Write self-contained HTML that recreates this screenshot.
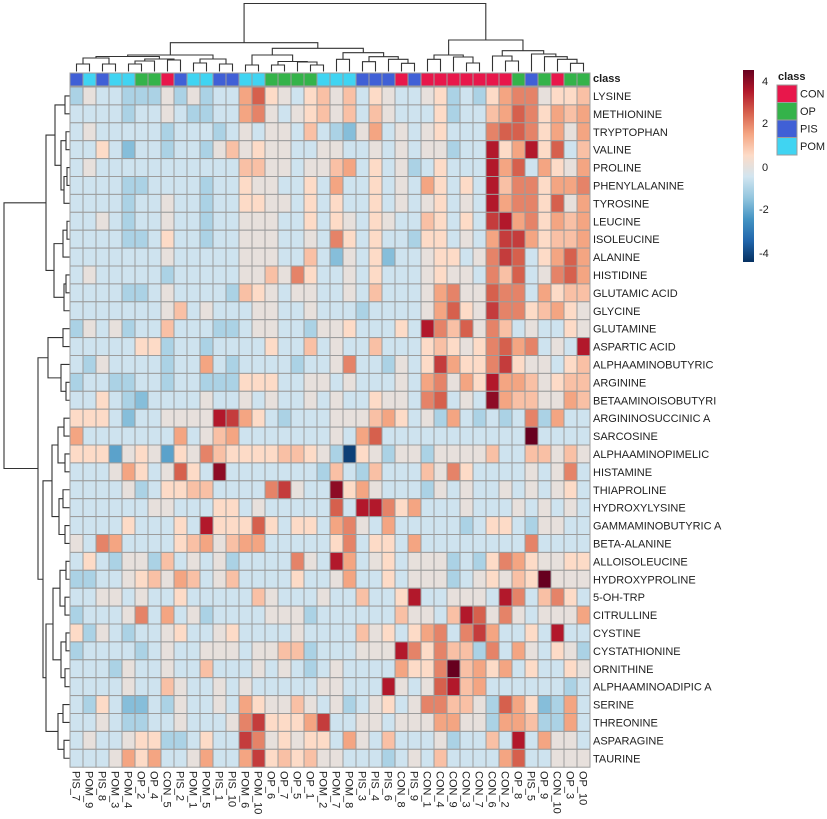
<!DOCTYPE html>
<html><head><meta charset="utf-8">
<style>
html,body{margin:0;padding:0;background:#fff;}
svg{display:block;}
text{font-family:"Liberation Sans",Arial,sans-serif;font-size:11px;fill:#1e1e1e;}
.b{font-weight:bold;}
</style></head><body>
<svg id="s" width="827" height="819" viewBox="0 0 827 819" xmlns="http://www.w3.org/2000/svg">
<defs><linearGradient id="cb" x1="0" y1="0" x2="0" y2="1">
<stop offset="0" stop-color="#67001F"/><stop offset="0.111" stop-color="#B2182B"/>
<stop offset="0.222" stop-color="#D6604D"/><stop offset="0.333" stop-color="#F4A582"/>
<stop offset="0.444" stop-color="#FDDBC7"/><stop offset="0.556" stop-color="#D1E5F0"/>
<stop offset="0.667" stop-color="#92C5DE"/><stop offset="0.778" stop-color="#4393C3"/>
<stop offset="0.889" stop-color="#2166AC"/><stop offset="1" stop-color="#053061"/>
</linearGradient></defs>
<rect width="827" height="819" fill="#fff"/>
<g id="cells" stroke="#9c9c9c" stroke-width="1"></g>
<g id="cls" stroke="#9c9c9c" stroke-width="1">
<rect x="70" y="73" width="13" height="13" fill="#4060D6"/>
<rect x="83" y="73" width="13" height="13" fill="#40D4F2"/>
<rect x="96" y="73" width="13" height="13" fill="#4060D6"/>
<rect x="109" y="73" width="13" height="13" fill="#40D4F2"/>
<rect x="122" y="73" width="13" height="13" fill="#40D4F2"/>
<rect x="135" y="73" width="13" height="13" fill="#34B34A"/>
<rect x="148" y="73" width="13" height="13" fill="#34B34A"/>
<rect x="161" y="73" width="13" height="13" fill="#E8174B"/>
<rect x="174" y="73" width="13" height="13" fill="#4060D6"/>
<rect x="187" y="73" width="13" height="13" fill="#40D4F2"/>
<rect x="200" y="73" width="13" height="13" fill="#40D4F2"/>
<rect x="213" y="73" width="13" height="13" fill="#4060D6"/>
<rect x="226" y="73" width="13" height="13" fill="#4060D6"/>
<rect x="239" y="73" width="13" height="13" fill="#40D4F2"/>
<rect x="252" y="73" width="13" height="13" fill="#40D4F2"/>
<rect x="265" y="73" width="13" height="13" fill="#34B34A"/>
<rect x="278" y="73" width="13" height="13" fill="#34B34A"/>
<rect x="291" y="73" width="13" height="13" fill="#34B34A"/>
<rect x="304" y="73" width="13" height="13" fill="#34B34A"/>
<rect x="317" y="73" width="13" height="13" fill="#40D4F2"/>
<rect x="330" y="73" width="13" height="13" fill="#40D4F2"/>
<rect x="343" y="73" width="13" height="13" fill="#40D4F2"/>
<rect x="356" y="73" width="13" height="13" fill="#4060D6"/>
<rect x="369" y="73" width="13" height="13" fill="#4060D6"/>
<rect x="382" y="73" width="13" height="13" fill="#4060D6"/>
<rect x="395" y="73" width="13" height="13" fill="#E8174B"/>
<rect x="408" y="73" width="13" height="13" fill="#4060D6"/>
<rect x="421" y="73" width="13" height="13" fill="#E8174B"/>
<rect x="434" y="73" width="13" height="13" fill="#E8174B"/>
<rect x="447" y="73" width="13" height="13" fill="#E8174B"/>
<rect x="460" y="73" width="13" height="13" fill="#E8174B"/>
<rect x="473" y="73" width="13" height="13" fill="#E8174B"/>
<rect x="486" y="73" width="13" height="13" fill="#E8174B"/>
<rect x="499" y="73" width="13" height="13" fill="#E8174B"/>
<rect x="512" y="73" width="13" height="13" fill="#34B34A"/>
<rect x="525" y="73" width="13" height="13" fill="#4060D6"/>
<rect x="538" y="73" width="13" height="13" fill="#34B34A"/>
<rect x="551" y="73" width="13" height="13" fill="#E8174B"/>
<rect x="564" y="73" width="13" height="13" fill="#34B34A"/>
<rect x="577" y="73" width="13" height="13" fill="#34B34A"/>
</g>
<g id="dend" fill="none" stroke="#333" stroke-width="1.1"></g>

<text class="b" x="593" y="82">class</text>
<g id="rowlab">
<text x="593" y="100">LYSINE</text>
<text x="593" y="117.9">METHIONINE</text>
<text x="593" y="135.8">TRYPTOPHAN</text>
<text x="593" y="153.7">VALINE</text>
<text x="593" y="171.6">PROLINE</text>
<text x="593" y="189.5">PHENYLALANINE</text>
<text x="593" y="207.4">TYROSINE</text>
<text x="593" y="225.3">LEUCINE</text>
<text x="593" y="243.2">ISOLEUCINE</text>
<text x="593" y="261.1">ALANINE</text>
<text x="593" y="279">HISTIDINE</text>
<text x="593" y="296.9">GLUTAMIC ACID</text>
<text x="593" y="314.8">GLYCINE</text>
<text x="593" y="332.7">GLUTAMINE</text>
<text x="593" y="350.6">ASPARTIC ACID</text>
<text x="593" y="368.5">ALPHAAMINOBUTYRIC</text>
<text x="593" y="386.4">ARGININE</text>
<text x="593" y="404.3">BETAAMINOISOBUTYRI</text>
<text x="593" y="422.2">ARGININOSUCCINIC A</text>
<text x="593" y="440.1">SARCOSINE</text>
<text x="593" y="458">ALPHAAMINOPIMELIC</text>
<text x="593" y="475.9">HISTAMINE</text>
<text x="593" y="493.8">THIAPROLINE</text>
<text x="593" y="511.7">HYDROXYLYSINE</text>
<text x="593" y="529.6">GAMMAMINOBUTYRIC A</text>
<text x="593" y="547.5">BETA-ALANINE</text>
<text x="593" y="565.4">ALLOISOLEUCINE</text>
<text x="593" y="583.3">HYDROXYPROLINE</text>
<text x="593" y="601.2">5-OH-TRP</text>
<text x="593" y="619.1">CITRULLINE</text>
<text x="593" y="637">CYSTINE</text>
<text x="593" y="654.9">CYSTATHIONINE</text>
<text x="593" y="672.8">ORNITHINE</text>
<text x="593" y="690.7">ALPHAAMINOADIPIC A</text>
<text x="593" y="708.6">SERINE</text>
<text x="593" y="726.5">THREONINE</text>
<text x="593" y="744.4">ASPARAGINE</text>
<text x="593" y="762.3">TAURINE</text>
</g>
<g id="collab">
<text transform="translate(76.5,771) rotate(90)" y="4">PIS_7</text>
<text transform="translate(89.5,771) rotate(90)" y="4">POM_9</text>
<text transform="translate(102.5,771) rotate(90)" y="4">PIS_8</text>
<text transform="translate(115.5,771) rotate(90)" y="4">POM_3</text>
<text transform="translate(128.5,771) rotate(90)" y="4">POM_4</text>
<text transform="translate(141.5,771) rotate(90)" y="4">OP_2</text>
<text transform="translate(154.5,771) rotate(90)" y="4">OP_4</text>
<text transform="translate(167.5,771) rotate(90)" y="4">CON_5</text>
<text transform="translate(180.5,771) rotate(90)" y="4">PIS_2</text>
<text transform="translate(193.5,771) rotate(90)" y="4">POM_1</text>
<text transform="translate(206.5,771) rotate(90)" y="4">POM_5</text>
<text transform="translate(219.5,771) rotate(90)" y="4">PIS_1</text>
<text transform="translate(232.5,771) rotate(90)" y="4">PIS_10</text>
<text transform="translate(245.5,771) rotate(90)" y="4">POM_6</text>
<text transform="translate(258.5,771) rotate(90)" y="4">POM_10</text>
<text transform="translate(271.5,771) rotate(90)" y="4">OP_6</text>
<text transform="translate(284.5,771) rotate(90)" y="4">OP_7</text>
<text transform="translate(297.5,771) rotate(90)" y="4">OP_5</text>
<text transform="translate(310.5,771) rotate(90)" y="4">OP_1</text>
<text transform="translate(323.5,771) rotate(90)" y="4">POM_2</text>
<text transform="translate(336.5,771) rotate(90)" y="4">POM_7</text>
<text transform="translate(349.5,771) rotate(90)" y="4">POM_8</text>
<text transform="translate(362.5,771) rotate(90)" y="4">PIS_3</text>
<text transform="translate(375.5,771) rotate(90)" y="4">PIS_4</text>
<text transform="translate(388.5,771) rotate(90)" y="4">PIS_6</text>
<text transform="translate(401.5,771) rotate(90)" y="4">CON_8</text>
<text transform="translate(414.5,771) rotate(90)" y="4">PIS_9</text>
<text transform="translate(427.5,771) rotate(90)" y="4">CON_1</text>
<text transform="translate(440.5,771) rotate(90)" y="4">CON_4</text>
<text transform="translate(453.5,771) rotate(90)" y="4">CON_9</text>
<text transform="translate(466.5,771) rotate(90)" y="4">CON_3</text>
<text transform="translate(479.5,771) rotate(90)" y="4">CON_7</text>
<text transform="translate(492.5,771) rotate(90)" y="4">CON_6</text>
<text transform="translate(505.5,771) rotate(90)" y="4">CON_2</text>
<text transform="translate(518.5,771) rotate(90)" y="4">OP_8</text>
<text transform="translate(531.5,771) rotate(90)" y="4">PIS_5</text>
<text transform="translate(544.5,771) rotate(90)" y="4">OP_9</text>
<text transform="translate(557.5,771) rotate(90)" y="4">CON_10</text>
<text transform="translate(570.5,771) rotate(90)" y="4">OP_3</text>
<text transform="translate(583.5,771) rotate(90)" y="4">OP_10</text>
</g>

<rect x="743" y="70" width="11" height="192" fill="url(#cb)"/>
<text x="762" y="85">4</text>
<text x="762" y="127">2</text>
<text x="762" y="171">0</text>
<text x="759" y="213">-2</text>
<text x="759" y="257">-4</text>

<text class="b" x="778" y="80">class</text>
<g stroke="#9c9c9c" stroke-width="1">
<rect x="777" y="85" width="20" height="17.5" fill="#E8174B"/>
<rect x="777" y="102.5" width="20" height="17.5" fill="#34B34A"/>
<rect x="777" y="120" width="20" height="17.5" fill="#4060D6"/>
<rect x="777" y="137.5" width="20" height="17.5" fill="#40D4F2"/>
</g>
<text x="800" y="97.5">CON</text>
<text x="800" y="115">OP</text>
<text x="800" y="132.5">PIS</text>
<text x="800" y="150">POM</text>
</svg>
<script>
(function(){
var NS="http://www.w3.org/2000/svg";
var rows=[
"fhggfffhfhfggkmihgij"+"hjgihgghifgfikllhiij",
"ggggfgghgf"+"fggklhghij"+"hjgjhgggif"+"ggjkmlikjk",
"ghgggggfgg"+"gfghghhgjg"+"fehkghghig"+"gglmmlikhk",
"ggigeggfgg"+"fhjhihhggh"+"hgghghghhf"+"ggoikoimgj",
"ghgggggggg"+"gggjjhhghh"+"jkgighfgig"+"ggokmgkihk",
"ggggffgggg"+"fggihhggig"+"kggighgkig"+"igojllikkl",
"ggggfgghgg"+"fggiihhgig"+"iggighghig"+"hgokllimhk",
"gghgfgghgg"+"fgghhhggig"+"ihgihggjig"+"ignoklikjk",
"ggggffgigg"+"fgghhhgghg"+"ligiggfiig"+"hgknnkijjk",
"ggggggghgg"+"ggghhhggjg"+"ehgiegghii"+"ghlnmgikmk",
"ghgggggfgg"+"ggghhjhlig"+"ghgiggghih"+"hgljmghlmk",
"ggggffghgg"+"ggfjihghhg"+"ghgjggghkl"+"hhmllgkijj",
"ggggggghjg"+"hggghhgghg"+"ggfgggghkm"+"ihnllijkih",
"fhghfggjgg"+"gffghhggfh"+"higggigolj"+"mhljghggih",
"gggggiifgg"+"fggggiggjg"+"hggjgggiji"+"hilmklghgo",
"gfhggggfgg"+"kgfggggfgg"+"hlggfhgink"+"iilnihhgij",
"fggffggfgg"+"fffiiigghh"+"ghggghgklh"+"kiokkjhijj",
"ggigfegggg"+"hgghghgghg"+"hggihhglmg"+"hgpkjjhhkj",
"iiigegghhh"+"honkigfggg"+"hhhjkighfk"+"gfgfglfkgg",
"kgggggggkg"+"hjkggggggg"+"hgkmgggggg"+"gggggqgggg",
"iiidhihdih"+"ljiiiijjih"+"fAihfhhfhh"+"hhjggjjhjh",
"ggghkighmi"+"gpgggggggf"+"jgfjgggjhl"+"igggghghlg",
"gggghfgiij"+"jgggglnhgg"+"pikhgggfhg"+"hgghghghig",
"gggggghhgg"+"giighggggg"+"mgoolikggg"+"hggghghghg",
"ggggigggig"+"oiiimigiig"+"klhgkggggg"+"fgiigfhhgg",
"hglkggggij"+"khjkkggggg"+"ilgiigkggg"+"ggggglgggg",
"gigfhhfjgh"+"ghfgggglhg"+"okghighhhf"+"gfilkihhii",
"ffgghijhkj"+"ghjggggigg"+"hkggighhhf"+"ghihjiqhhh",
"gghhghggig"+"ggggjhgggh"+"ggjggioggh"+"hhgolgjlig",
"fggghlgkgh"+"fgggghhhfg"+"gggggjhhgj"+"omhlhghhhk",
"ifhgfgghig"+"ghigggghgg"+"ggjhigiklg"+"lnkggigogg",
"fggggfghgg"+"hhhghhjjfg"+"gghhholilj"+"jflgkhgihf",
"gggfhgghgg"+"jggghghgfg"+"hggggkiilq"+"jkikgiggih",
"gggghggjhg"+"ghghgggggh"+"hgggohghmo"+"jkggggggfg",
"gfigeegfhg"+"ghgkihhjhg"+"hfghighllj"+"jhfmkiefkg",
"gghgffgghg"+"gghlniiikn"+"gghhghhhkk"+"hhfkkjffkg",
"ghgghiiffg"+"iggnlhihii"+"gkhgjggghf"+"ggjgogkhhg",
"ggghkikggh"+"kggknijijh"+"hgggfghgjg"+"gggkmgghhh"
];
var pal=["#053061","#2166AC","#4393C3","#92C5DE","#D1E5F0","#FDDBC7","#F4A582","#D6604D","#B2182B","#67001F"];
function hx(h){return [parseInt(h.substr(1,2),16),parseInt(h.substr(3,2),16),parseInt(h.substr(5,2),16)];}
var P=pal.map(hx);
function col(v){
  var t=(v+4.5)/9; if(t<0)t=0; if(t>1)t=1;
  var f=t*9, i=Math.floor(f); if(i>=9){i=8;} var r=f-i;
  var a=P[i], b=P[i+1];
  var c=[0,1,2].map(function(k){return Math.round(a[k]+(b[k]-a[k])*r);});
  return "rgb("+c.join(",")+")";
}
function val(ch){ if(ch==="A") return -4.2; var v=(ch.charCodeAt(0)-104)*0.5; if(v<0) v*=1.1; return v; }
var g=document.getElementById("cells");
var CH=17.9;
for(var r=0;r<rows.length;r++){
  var s=rows[r];
  for(var c=0;c<40;c++){
    var e=document.createElementNS(NS,"rect");
    e.setAttribute("x",70+13*c); e.setAttribute("y",(87+CH*r).toFixed(2));
    e.setAttribute("width",13); e.setAttribute("height",CH);
    e.setAttribute("fill",col(val(s.charAt(c)||"h")));
    g.appendChild(e);
  }
}
var d=document.getElementById("dend"), path="";
function dc(n){
  if(typeof n==="number") return {p:76.5+13*n,h:71.5};
  var A=dc(n[0]),B=dc(n[1]),H=n[2];
  path+="M"+A.p+" "+A.h+"V"+H+"H"+B.p+"V"+B.h;
  return {p:(A.p+B.p)/2,h:H};
}
function dr(n){
  if(typeof n==="number") return {p:87+CH*(n+0.5),h:69.5};
  var A=dr(n[0]),B=dr(n[1]),H=n[2];
  path+="M"+A.h+" "+A.p.toFixed(2)+"H"+H+"V"+B.p.toFixed(2)+"H"+B.h;
  return {p:(A.p+B.p)/2,h:H};
}
var LS=[[[[0,1,64],[2,3,64],58],[[[4,5,64],6,61],[7,8,60],59],56.5],[[9,10,63],[11,12,64],59],55];
var MSL=[[13,14,65],[[15,16,65],[17,[18,19,65],62],61.5],55];
var MSR=[[20,21,59.3],[[22,23,61.7],[24,[25,26,63.3],59.3],56.7],52.7];
var MS=[MSL,MSR,48.3];
var RL=[LS,MS,42.7];
var RA=[[27,28,59.3],[29,[30,31,63],57],55];
var RB1=[32,[33,34,61],56];
var RB2=[35,[36,[37,[38,39,63.3],59.3],56.7],54];
var RR=[RA,[RB1,RB2,50.7],40];
dc([RL,RR,3.5]);
var T1=[[0,1,65],[[2,3,66],[[4,5,67],6,64],61],55];
var T2=[[[7,8,67],9,63],[[10,11,66],12,64],54];
var TOP=[T1,T2,46];
var B1=[[13,14,63],[15,[16,17,66],61],48];
var B2x=[[[18,19,64],[20,21,65],58],[[22,23,63],[24,25,65],59],52];
var B2y=[[[[26,27,66],[28,29,65],60],[[30,31,66],[32,33,65],61],53],[[34,35,63],[36,37,64],58],46];
var BOT=[B1,[B2x,B2y,43],38];
dr([TOP,BOT,4]);
var pe=document.createElementNS(NS,"path");
pe.setAttribute("d",path);
d.appendChild(pe);
})();
</script>
</body></html>
